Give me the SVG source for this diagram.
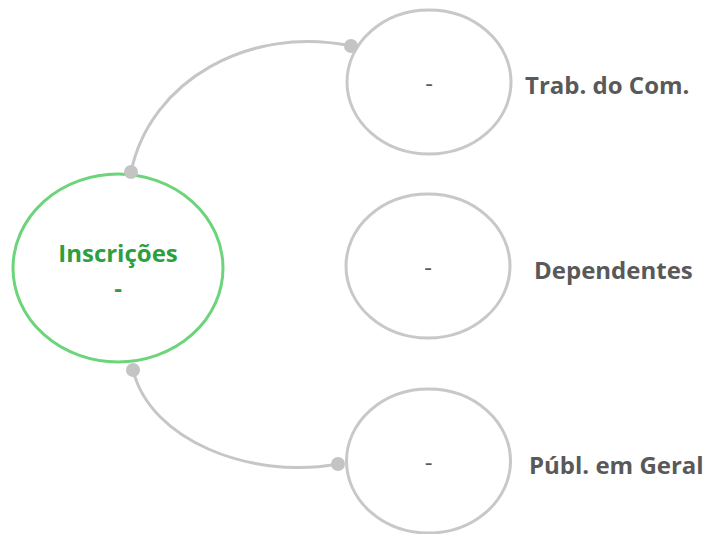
<svg xmlns="http://www.w3.org/2000/svg" width="711" height="534" viewBox="0 0 711 534">
<style>
.small{fill:#fff;stroke:#c8c8c8;stroke-width:3}
.conn{fill:none;stroke:#c6c6c6;stroke-width:3}
.dot{fill:#c4c4c4}
.lbl{font-family:"Open Sans","Liberation Sans",sans-serif;font-weight:bold;font-size:24px;fill:#595959}
.dash{font-family:"Open Sans","Liberation Sans",sans-serif;font-size:24px;fill:#595959;text-anchor:middle}
</style>
<rect width="711" height="534" fill="#fff"/>
<g id="connectors">
<path class="conn" d="M131,172 C150,80 250,25 351,46"/>
<path class="conn" d="M133,370 C150,440 250,480 338,464"/>
</g>
<g id="node-inscricoes">
<ellipse cx="118" cy="268" rx="105" ry="94" fill="#fff" stroke="#6cd47b" stroke-width="3"/>
<text x="118" y="262" text-anchor="middle" font-family="Open Sans, Liberation Sans, sans-serif" font-weight="bold" font-size="24" fill="#2e9e3e">Inscrições</text>
<text x="118" y="297" text-anchor="middle" font-family="Open Sans, Liberation Sans, sans-serif" font-weight="bold" font-size="24" fill="#2e9e3e">-</text>
</g>
<g id="node-trab">
<ellipse class="small" cx="429" cy="82" rx="82" ry="72"/>
<text class="dash" x="429" y="92">-</text>
<text class="lbl" x="525" y="94">Trab. do Com.</text>
</g>
<g id="node-dependentes">
<ellipse class="small" cx="428" cy="266" rx="82" ry="72"/>
<text class="dash" x="428" y="276">-</text>
<text class="lbl" x="534" y="279">Dependentes</text>
</g>
<g id="node-publ">
<ellipse class="small" cx="428.5" cy="461" rx="82" ry="72"/>
<text class="dash" x="428.5" y="471">-</text>
<text class="lbl" x="529" y="474">Públ. em Geral</text>
</g>
<g id="dots">
<circle class="dot" cx="131" cy="172" r="7"/>
<circle class="dot" cx="351" cy="46" r="7"/>
<circle class="dot" cx="133" cy="370" r="7"/>
<circle class="dot" cx="338" cy="464" r="7"/>
</g>
</svg>
